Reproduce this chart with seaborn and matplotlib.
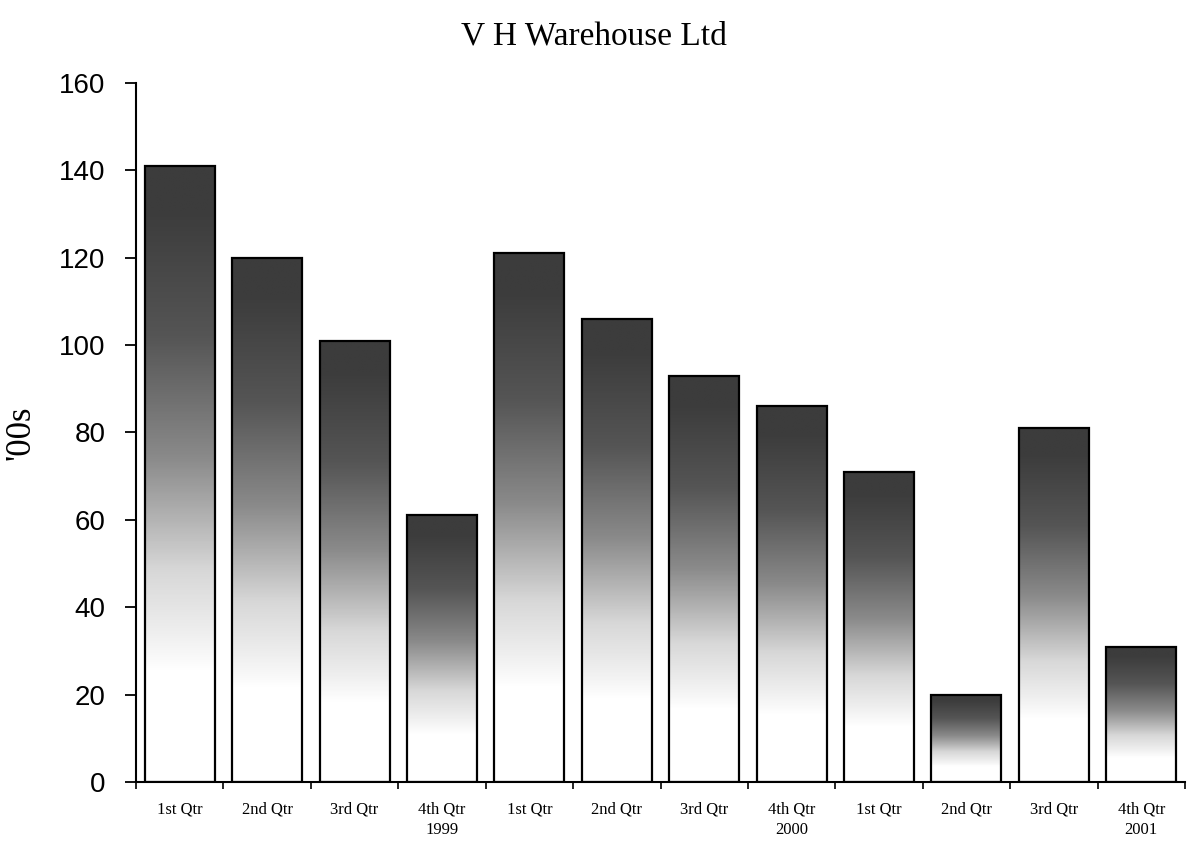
import numpy as np
import pandas as pd
import matplotlib
matplotlib.use("Agg")
import matplotlib.pyplot as plt
from matplotlib.colors import LinearSegmentedColormap
import seaborn as sns

# quarterly figures, '00s
periods = ["1999 Q1", "1999 Q2", "1999 Q3", "1999 Q4",
           "2000 Q1", "2000 Q2", "2000 Q3", "2000 Q4",
           "2001 Q1", "2001 Q2", "2001 Q3", "2001 Q4"]
values = [141, 120, 101, 61, 121, 106, 93, 86, 71, 20, 81, 31]
tick_labels = ["1st Qtr", "2nd Qtr", "3rd Qtr", "4th Qtr\n1999",
               "1st Qtr", "2nd Qtr", "3rd Qtr", "4th Qtr\n2000",
               "1st Qtr", "2nd Qtr", "3rd Qtr", "4th Qtr\n2001"]

df = pd.DataFrame({"period": periods, "value": values})

sns.set_style("white")
plt.rcParams["font.family"] = ["Liberation Serif", "DejaVu Serif"]
plt.rcParams["text.color"] = "black"
plt.rcParams["axes.labelcolor"] = "black"
plt.rcParams["xtick.color"] = "black"
plt.rcParams["ytick.color"] = "black"

fig = plt.figure(figsize=(11.87, 8.52), dpi=100)
ax = fig.add_axes([0.1146, 0.0822, 0.8837, 0.8204])

sns.barplot(data=df, x="period", y="value", color="white", edgecolor="black",
            linewidth=1.6, width=0.8, ax=ax)

ax.set_xlim(-0.5, 11.5)
ax.set_ylim(0, 160)

# shaded fill: dark at the top, fading to white near the base of each bar
cmap = LinearSegmentedColormap.from_list("fade", ["white", "#d8d8d8", "#8a8a8a", "#555555", "#3c3c3c"])
f = np.linspace(0, 1, 256)
grad = np.clip((f - 0.18) / 0.75, 0, 1) ** 0.9
grad = grad[:, None]
for p in ax.patches:
    x0, y0 = p.get_x(), p.get_y()
    w, h = p.get_width(), p.get_height()
    im = ax.imshow(grad, extent=[x0, x0 + w, y0, y0 + h], origin="lower",
                   aspect="auto", cmap=cmap, vmin=0, vmax=1, zorder=p.get_zorder() - 0.1,
                   interpolation="bilinear")
    im.set_clip_path(p)
    p.set_facecolor("none")

ax.set_xlim(-0.5, 11.5)
ax.set_ylim(0, 160)

sns.despine(ax=ax)
for s in ["left", "bottom"]:
    ax.spines[s].set_linewidth(1.5)
    ax.spines[s].set_color("black")

ax.set_yticks(range(0, 161, 20))
ax.set_yticklabels([str(v) for v in range(0, 161, 20)], family="Liberation Sans", fontsize=20)
ax.tick_params(axis="y", direction="out", length=8, width=1.3, pad=14, left=True)

ax.set_xticks(range(12))
ax.set_xticklabels(tick_labels, fontsize=12, linespacing=1.35)
ax.set_xticks(np.arange(-0.5, 12, 1), minor=True)
ax.tick_params(axis="x", which="major", length=0, pad=14)
ax.tick_params(axis="x", which="minor", direction="out", length=5, width=1.2, bottom=True)

ax.set_xlabel("")
ax.set_ylabel("'00s", fontsize=25)
ax.yaxis.set_label_coords(-0.094, 0.5)

fig.suptitle("V H Warehouse Ltd", x=0.5, y=0.958, fontsize=24, va="center")

fig.savefig("out.png", dpi=100)
